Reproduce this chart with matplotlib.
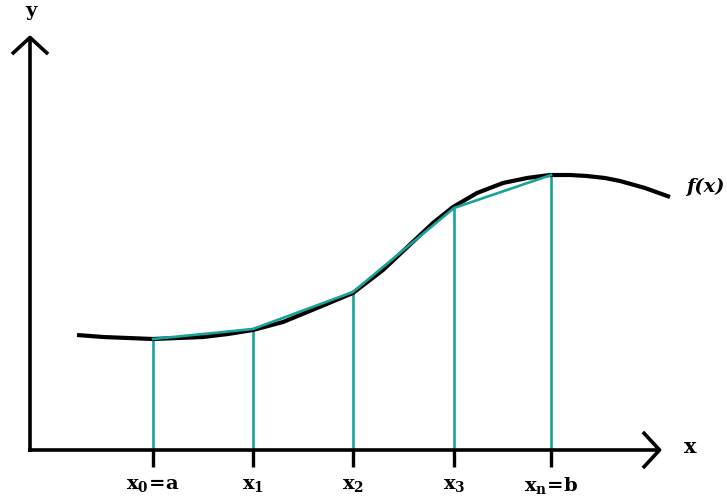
import matplotlib
matplotlib.use("Agg")
import matplotlib.pyplot as plt

# curve f(x) (origin at the axes corner, y up)
curve_x = [47, 73, 98, 123, 148, 173, 198, 223, 253, 287, 323, 353, 387, 403, 423,
           447, 473, 497, 520, 540, 557, 575, 590, 615, 640]
curve_y = [115, 113, 112, 111, 112, 113, 116, 120, 128, 142, 157, 180, 212, 227, 243,
           257, 267, 272, 275, 275, 274, 272, 269, 262, 253]

# partition points and f at them
node_x = [123, 223, 323, 424, 521]
node_y = [111, 121, 158, 242, 275]
node_labels = [r"$\mathbf{x_0\!=\!a}$", r"$\mathbf{x_1}$", r"$\mathbf{x_2}$", r"$\mathbf{x_3}$", r"$\mathbf{x_n\!=\!b}$"]

teal = "#17a398"
plt.rcParams["mathtext.fontset"] = "dejavuserif"

fig = plt.figure(figsize=(7.27, 5), dpi=100)
ax = fig.add_axes([0, 0, 1, 1])
ax.set_xlim(-30, 697)
ax.set_ylim(-50, 450)
ax.axis("off")

# axes with open arrow heads
arrow = dict(arrowstyle="->,head_length=0.6,head_width=0.65", lw=2.6, color="black",
             mutation_scale=20, shrinkA=0, shrinkB=0, capstyle="butt")
ax.annotate("", xy=(632, 0), xytext=(-2, 0), arrowprops=arrow)
ax.annotate("", xy=(0, 415), xytext=(0, -2), arrowprops=arrow)

# verticals and chords of the trapezoids
ax.vlines(node_x, 0, node_y, color=teal, lw=1.9, zorder=2)
ax.plot(node_x, node_y, color=teal, lw=1.9, zorder=4)

# the function
ax.plot(curve_x, curve_y, color="black", lw=3.0, solid_capstyle="butt",
        solid_joinstyle="round", zorder=3)

# ticks below axis
ax.vlines(node_x, -17, 0, color="black", lw=2.4, zorder=5)

for x, lab in zip(node_x, node_labels):
    ax.text(x, -35, lab, ha="center", va="center", fontsize=14)

ax.text(660, 3, r"$\mathbf{x}$", ha="center", va="center", fontsize=15)
ax.text(2, 437, r"$\mathbf{y}$", ha="center", va="center", fontsize=14)
ax.text(675, 263, "f(x)", ha="center", va="center", fontsize=14,
        family="DejaVu Serif", style="italic", fontweight="bold")

fig.savefig("out.png", dpi=100)
